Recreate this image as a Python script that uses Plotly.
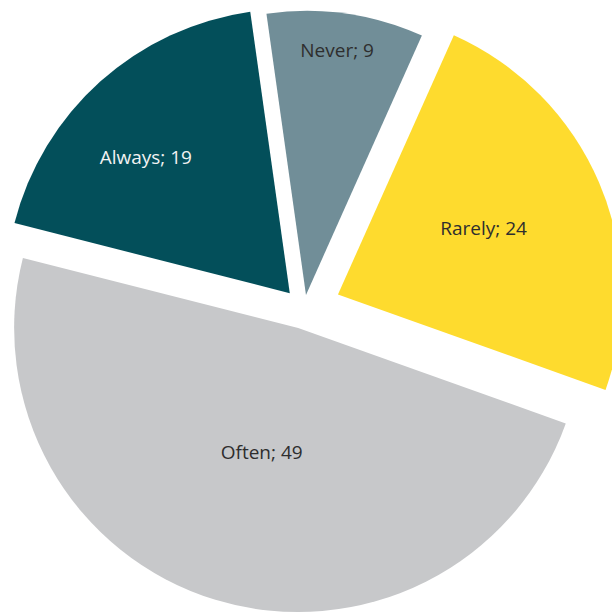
import plotly.graph_objects as go

labels = ["Never", "Rarely", "Often", "Always"]
values = [9, 24, 49, 19]
label_texts = [
    "Never; 9<br>\u00a0<br>\u00a0",
    "Rarely; 24" + "\u00a0" * 4,
    "\u00a0\u00a0Often; 49<br>\u00a0",
    "Always; 19" + "\u00a0" * 9,
]
colors = ["#718E98", "#FEDB2E", "#C7C8CA", "#034F5A"]
text_colors = ["#2E2E2E", "#2E2E2E", "#2E2E2E", "#F2F2F2"]
pulls = [0.05, 0.13, 0.07, 0.075]

fig = go.Figure(
    go.Pie(
        labels=labels,
        values=values,
        text=label_texts,
        sort=False,
        direction="clockwise",
        rotation=-8,
        pull=pulls,
        marker=dict(colors=colors, line=dict(width=0)),
        texttemplate="%{text}",
        textposition="inside",
        insidetextorientation="horizontal",
        textfont=dict(family="Open Sans", size=19, color=text_colors),
        hoverinfo="label+value",
        showlegend=False,
    )
)

fig.update_layout(
    width=642,
    height=642,
    margin=dict(l=0, r=0, t=0, b=0),
    paper_bgcolor="white",
    plot_bgcolor="white",
    uniformtext=dict(minsize=19, mode="show"),
)

post = (
    "document.body.style.margin='0px';"
    "document.body.style.overflow='hidden';"
    "var gd=document.getElementById('{plot_id}');"
    "gd.style.marginLeft='-17px';gd.style.marginTop='-12px';"
)

fig.write_html("out.html", post_script=post, config={"displayModeBar": False})
